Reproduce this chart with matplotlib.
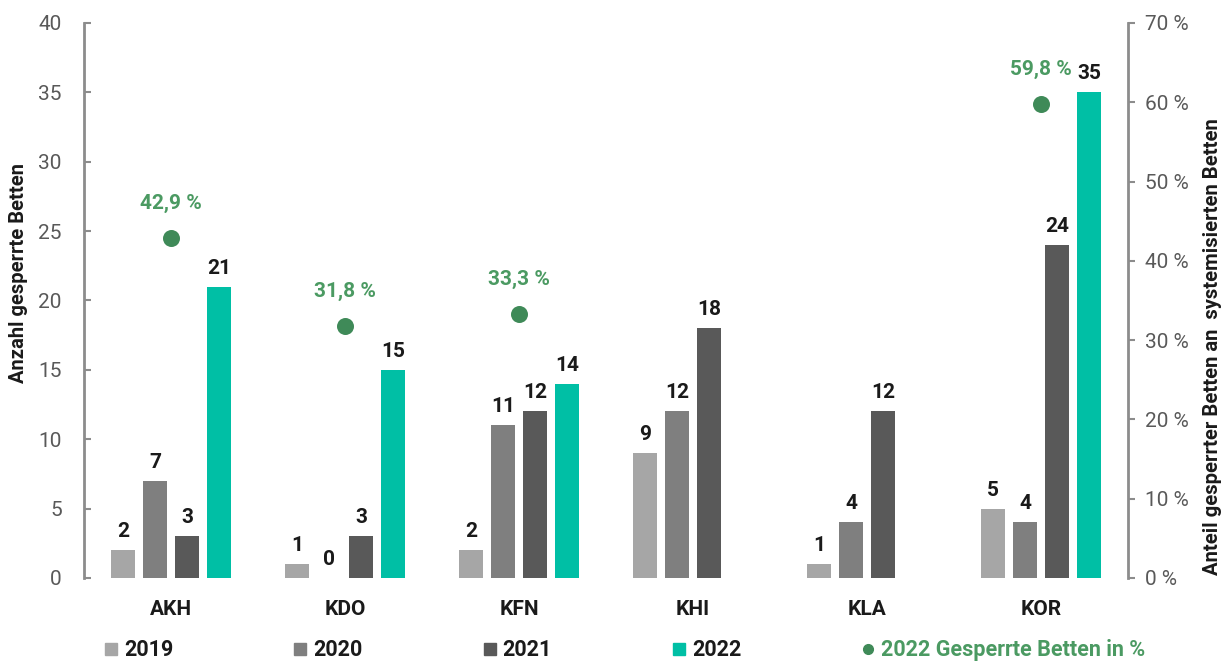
import matplotlib
matplotlib.use("Agg")
import matplotlib.pyplot as plt
from matplotlib.lines import Line2D
from matplotlib.ticker import FuncFormatter, MultipleLocator
import numpy as np

plt.rcParams["font.family"] = ["Roboto", "DejaVu Sans"]

# Data
hospitals = ["AKH", "KDO", "KFN", "KHI", "KLA", "KOR"]
years = ["2019", "2020", "2021", "2022"]
beds_2019 = [2, 1, 2, 9, 1, 5]
beds_2020 = [7, 0, 11, 12, 4, 4]
beds_2021 = [3, 3, 12, 18, 12, 24]
beds_2022 = [21, 15, 14, None, None, 35]
share_2022 = [42.9, 31.8, 33.3, None, None, 59.8]

bar_colors = ["#a6a6a6", "#7f7f7f", "#595959", "#00bfa5"]
dot_color = "#3f8a58"
pct_text_color = "#4b9a62"
tick_color = "#595959"
spine_color = "#8c8c8c"
text_dark = "#1a1a1a"

fig = plt.figure(figsize=(12.23, 6.62), dpi=100)
ax = fig.add_axes([0.0687, 0.1269, 0.8536, 0.8384])
ax2 = ax.twinx()

x = np.arange(len(hospitals))
width = 0.143
offsets = [-0.276, -0.092, 0.092, 0.276]
series = [beds_2019, beds_2020, beds_2021, beds_2022]

for vals, off, col in zip(series, offsets, bar_colors):
    for xi, v in zip(x, vals):
        if v is None:
            continue
        ax.bar(xi + off, v, width=width, color=col, zorder=2)
        ax.annotate(f"{v}", (xi + off, v), xytext=(0, 6.5), textcoords="offset points",
                    ha="center", va="bottom", fontsize=15, fontweight="bold",
                    color=text_dark)

# 2022 share on secondary axis
for xi, p in zip(x, share_2022):
    if p is None:
        continue
    ax2.scatter(xi, p, s=150, color=dot_color, zorder=3, linewidths=0)
    ax2.annotate(f"{p:.1f} %".replace(".", ","), (xi, p), xytext=(0, 18),
                 textcoords="offset points", ha="center", va="bottom",
                 fontsize=15, fontweight="bold", color=pct_text_color)

ax.set_xlim(-0.5, 5.5)
ax.set_ylim(0, 40)
ax2.set_ylim(0, 70)
ax.yaxis.set_major_locator(MultipleLocator(5))
ax2.yaxis.set_major_locator(MultipleLocator(10))
ax2.yaxis.set_major_formatter(FuncFormatter(lambda v, _: f"{v:.0f} %"))

ax.set_xticks(x)
ax.set_xticklabels(hospitals, fontsize=15, fontweight="bold", color=text_dark)
ax.tick_params(axis="x", length=0, pad=16)

ax.tick_params(axis="y", direction="in", length=5, width=1.5, color=spine_color,
               labelsize=15, labelcolor=tick_color, pad=16)
ax2.tick_params(axis="y", direction="out", length=5, width=1.5, color=spine_color,
                labelsize=15, labelcolor=tick_color, pad=7)

for a in (ax, ax2):
    for s in ("top", "bottom"):
        a.spines[s].set_visible(False)
ax.spines["right"].set_visible(False)
ax2.spines["left"].set_visible(False)
ax.spines["left"].set_color(spine_color)
ax.spines["left"].set_linewidth(2)
ax2.spines["right"].set_color(spine_color)
ax2.spines["right"].set_linewidth(2)

# Axis titles
fig.text(19 / 1223, 1 - 273 / 662, "Anzahl gesperrte Betten", rotation=90,
         ha="center", va="center", fontsize=14.5, fontweight="bold", color=text_dark)
fig.text(1213 / 1223, 1 - 347 / 662, "Anteil gesperrter Betten an  systemisierten Betten",
         rotation=90, ha="center", va="center", fontsize=14.6, fontweight="bold",
         color=text_dark)

# Legend
handles = [Line2D([], [], marker="s", linestyle="none", markersize=8,
                  markerfacecolor=c, markeredgecolor=c) for c in bar_colors]
handles.append(Line2D([], [], marker="o", linestyle="none", markersize=7,
                      markerfacecolor=dot_color, markeredgecolor=dot_color))
labels = years + ["2022 Gesperrte Betten in %"]
leg = fig.legend(handles, labels, loc="center", bbox_to_anchor=(0.511, 0.018),
                 ncol=5, frameon=False, handlelength=0.6,
                 handletextpad=0.3, columnspacing=5.6,
                 prop={"weight": "bold", "size": 15.5})
for t in leg.get_texts():
    t.set_color(text_dark)
leg.get_texts()[-1].set_color(pct_text_color)

fig.savefig("out.png", dpi=100)
